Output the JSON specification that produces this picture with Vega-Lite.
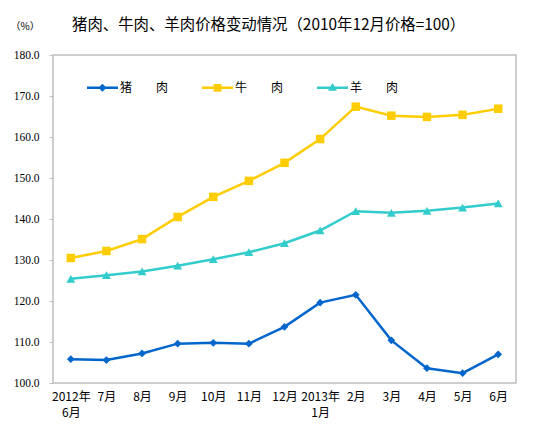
{
  "$schema": "https://vega.github.io/schema/vega-lite/v6.json",
  "autosize": {"type": "none"},
  "padding": {"left": 53, "top": 55, "right": 19, "bottom": 54},
  "width": 463,
  "height": 328,
  "background": "white",
  "config": {
    "view": {"stroke": "#bfbfbf", "strokeWidth": 1.5},
    "font": "Noto Sans CJK SC"
  },
  "title": {
    "text": "猪肉、牛肉、羊肉价格变动情况（2010年12月价格=100）",
    "font": "Noto Sans CJK SC",
    "fontSize": 15.4,
    "fontWeight": "normal",
    "color": "#000000",
    "anchor": "start",
    "frame": "group",
    "dx": 19,
    "offset": -12
  },
  "data": {
    "values": [
      {"m": "2012年|6月", "s": "猪肉", "v": 105.8},
      {"m": "7月", "s": "猪肉", "v": 105.6},
      {"m": "8月", "s": "猪肉", "v": 107.2},
      {"m": "9月", "s": "猪肉", "v": 109.6},
      {"m": "10月", "s": "猪肉", "v": 109.8},
      {"m": "11月", "s": "猪肉", "v": 109.6},
      {"m": "12月", "s": "猪肉", "v": 113.7},
      {"m": "2013年|1月", "s": "猪肉", "v": 119.6},
      {"m": "2月", "s": "猪肉", "v": 121.5},
      {"m": "3月", "s": "猪肉", "v": 110.4},
      {"m": "4月", "s": "猪肉", "v": 103.6},
      {"m": "5月", "s": "猪肉", "v": 102.4},
      {"m": "6月", "s": "猪肉", "v": 107.0},
      {"m": "2012年|6月", "s": "牛肉", "v": 130.5},
      {"m": "7月", "s": "牛肉", "v": 132.2},
      {"m": "8月", "s": "牛肉", "v": 135.1},
      {"m": "9月", "s": "牛肉", "v": 140.5},
      {"m": "10月", "s": "牛肉", "v": 145.4},
      {"m": "11月", "s": "牛肉", "v": 149.3},
      {"m": "12月", "s": "牛肉", "v": 153.7},
      {"m": "2013年|1月", "s": "牛肉", "v": 159.5},
      {"m": "2月", "s": "牛肉", "v": 167.4},
      {"m": "3月", "s": "牛肉", "v": 165.2},
      {"m": "4月", "s": "牛肉", "v": 164.9},
      {"m": "5月", "s": "牛肉", "v": 165.4},
      {"m": "6月", "s": "牛肉", "v": 166.9},
      {"m": "2012年|6月", "s": "羊肉", "v": 125.4},
      {"m": "7月", "s": "羊肉", "v": 126.3},
      {"m": "8月", "s": "羊肉", "v": 127.2},
      {"m": "9月", "s": "羊肉", "v": 128.6},
      {"m": "10月", "s": "羊肉", "v": 130.2},
      {"m": "11月", "s": "羊肉", "v": 131.9},
      {"m": "12月", "s": "羊肉", "v": 134.1},
      {"m": "2013年|1月", "s": "羊肉", "v": 137.2},
      {"m": "2月", "s": "羊肉", "v": 141.9},
      {"m": "3月", "s": "羊肉", "v": 141.5},
      {"m": "4月", "s": "羊肉", "v": 142.0},
      {"m": "5月", "s": "羊肉", "v": 142.8},
      {"m": "6月", "s": "羊肉", "v": 143.8}
    ]
  },
  "encoding": {
    "x": {
      "field": "m",
      "type": "ordinal",
      "sort": null,
      "scale": {"type": "point", "padding": 0.5},
      "axis": {
        "title": null,
        "labelAngle": 0,
        "labelExpr": "split(datum.label, '|')",
        "labelFont": "Noto Sans CJK SC",
        "labelFontSize": 12,
        "labelColor": "#000000",
        "labelPadding": 8,
        "labelLineHeight": 16,
        "labelBaseline": "top",
        "ticks": false,
        "domain": false,
        "labelOverlap": false
      }
    },
    "y": {
      "field": "v",
      "type": "quantitative",
      "scale": {"domain": [100, 180], "nice": false, "zero": false},
      "axis": {
        "title": "（%）",
        "titleAngle": 0,
        "titleAlign": "left",
        "titleBaseline": "middle",
        "titleX": -43,
        "titleY": -29,
        "titleFont": "Noto Sans CJK SC",
        "titleFontSize": 10,
        "titleFontWeight": "normal",
        "titleColor": "#000000",
        "values": [100, 110, 120, 130, 140, 150, 160, 170, 180],
        "format": ".1f",
        "labelFont": "Liberation Serif",
        "labelFontSize": 11.5,
        "labelColor": "#000000",
        "labelPadding": 10,
        "tickSize": 4,
        "tickColor": "#bfbfbf",
        "domain": false,
        "grid": false
      }
    }
  },
  "layer": [
    {
      "transform": [{"filter": {"field": "s", "equal": "猪肉"}}],
      "mark": {"type": "line", "strokeWidth": 2.5, "color": "#0066cc",
        "point": {"filled": true, "shape": "diamond", "size": 60, "color": "#0066cc", "opacity": 1}}
    },
    {
      "transform": [{"filter": {"field": "s", "equal": "牛肉"}}],
      "mark": {"type": "line", "strokeWidth": 2.5, "color": "#ffcc00",
        "point": {"filled": true, "shape": "square", "size": 72, "color": "#ffcc00", "opacity": 1}}
    },
    {
      "transform": [{"filter": {"field": "s", "equal": "羊肉"}}],
      "mark": {"type": "line", "strokeWidth": 2.5, "color": "#33cccc",
        "point": {"filled": true, "shape": "triangle-up", "size": 80, "color": "#33cccc", "opacity": 1}}
    },
    {
      "transform": [{"filter": {"field": "v", "lt": 0}}],
      "mark": {"type": "point", "filled": true, "opacity": 1, "size": 961},
      "encoding": {
        "color": {
          "field": "s",
          "type": "nominal",
          "scale": {"domain": ["猪肉", "牛肉", "羊肉"], "range": ["#0066cc", "#ffcc00", "#33cccc"]},
          "legend": {
            "title": null,
            "orient": "none",
            "direction": "horizontal",
            "legendX": 34,
            "legendY": 17,
            "labelExpr": "substring(datum.label, 0, 1) + '　　' + substring(datum.label, 1)",
            "labelFont": "Noto Sans CJK SC",
            "labelFontSize": 12,
            "labelColor": "#000000",
            "labelOffset": 2,
            "columnPadding": 33,
            "symbolSize": 961,
            "symbolStrokeWidth": 0
          }
        },
        "shape": {
          "field": "s",
          "type": "nominal",
          "scale": {
            "domain": ["猪肉", "牛肉", "羊肉"],
            "range": [
              "M-1,-0.08H1V0.08H-1Z M0,-0.26L0.26,0L0,0.26L-0.26,0Z",
              "M-1,-0.08H1V0.08H-1Z M-0.25,-0.25H0.25V0.25H-0.25Z",
              "M-1,-0.08H1V0.08H-1Z M0,-0.3L0.29,0.2H-0.29Z"
            ]
          },
          "legend": {
            "title": null,
            "orient": "none",
            "direction": "horizontal",
            "legendX": 34,
            "legendY": 17,
            "labelExpr": "substring(datum.label, 0, 1) + '　　' + substring(datum.label, 1)",
            "labelFont": "Noto Sans CJK SC",
            "labelFontSize": 12,
            "labelColor": "#000000",
            "labelOffset": 2,
            "columnPadding": 33,
            "symbolSize": 961,
            "symbolStrokeWidth": 0
          }
        }
      }
    }
  ]
}
